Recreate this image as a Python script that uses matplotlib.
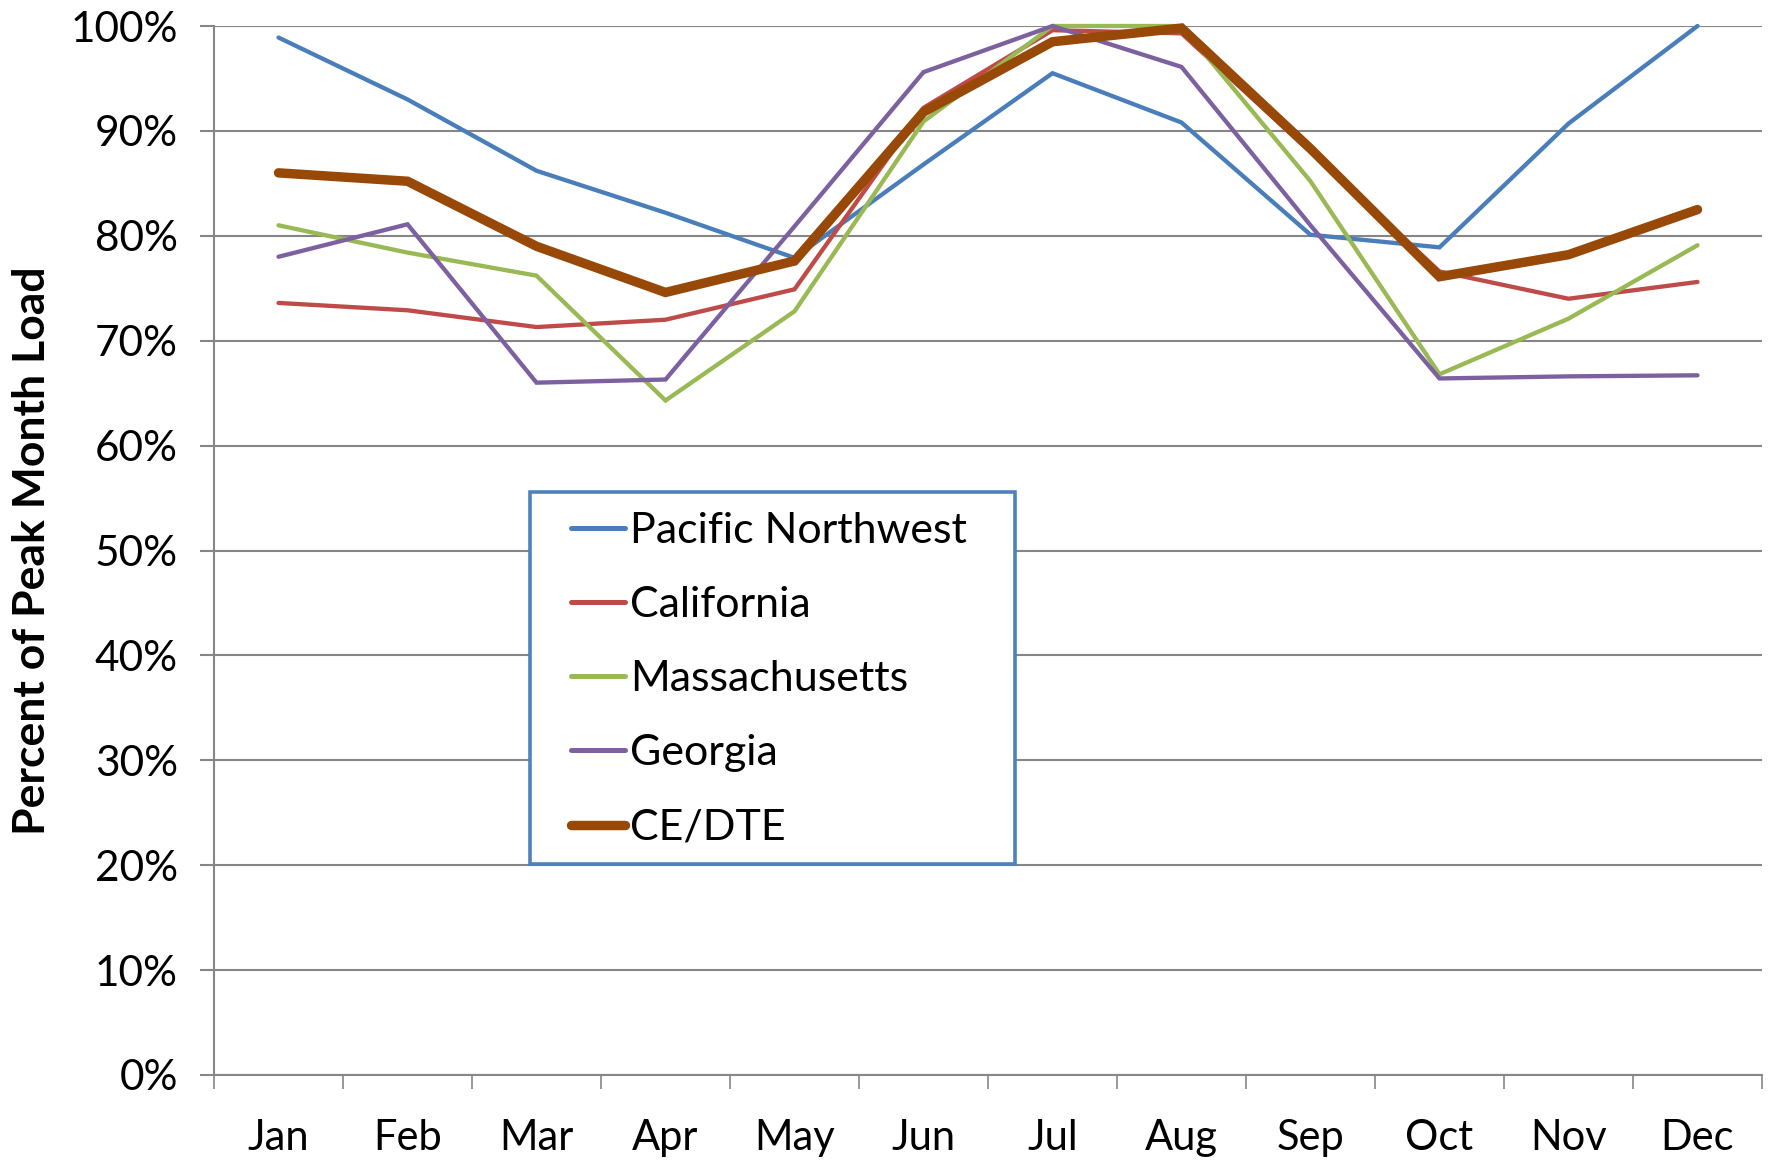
import matplotlib
matplotlib.use("Agg")
import matplotlib.pyplot as plt
from matplotlib.patches import Rectangle
from matplotlib.ticker import FixedLocator, FuncFormatter

months = ["Jan", "Feb", "Mar", "Apr", "May", "Jun", "Jul", "Aug", "Sep", "Oct", "Nov", "Dec"]
pacific_nw = [98.9, 93.0, 86.2, 82.2, 77.9, 86.8, 95.5, 90.8, 80.1, 78.9, 90.7, 100.0]
california = [73.6, 72.9, 71.3, 72.0, 74.9, 92.2, 99.6, 99.3, 88.0, 76.6, 74.0, 75.6]
massachusetts = [81.0, 78.4, 76.2, 64.3, 72.8, 90.9, 100.0, 100.0, 85.2, 66.8, 72.1, 79.1]
georgia = [78.0, 81.1, 66.0, 66.3, 80.9, 95.6, 100.0, 96.1, 81.0, 66.4, 66.6, 66.7]
ce_dte = [86.0, 85.2, 79.0, 74.6, 77.6, 91.8, 98.5, 99.8, 88.3, 76.1, 78.2, 82.5]

series = [
    ("Pacific Northwest", pacific_nw, "#4A7EBB", 3.1),
    ("California", california, "#BE4B48", 3.1),
    ("Massachusetts", massachusetts, "#98B954", 3.1),
    ("Georgia", georgia, "#7D60A0", 3.1),
    ("CE/DTE", ce_dte, "#984807", 6.8),
]

plt.rcParams['font.family'] = ['Lato', 'DejaVu Sans']

W, H = 1775, 1161
fig = plt.figure(figsize=(W / 100, H / 100), dpi=100)
left, right, top, bottom = 214, 1762, 26, 1075
ax = fig.add_axes([left / W, 1 - bottom / H, (right - left) / W, (bottom - top) / H])

x = list(range(len(months)))
for name, vals, color, lw in series:
    ax.plot(x, vals, color=color, lw=lw, label=name, solid_capstyle='round',
            solid_joinstyle='miter', clip_on=False)

ax.set_xlim(-0.5, 11.5)
ax.set_ylim(0, 100)

grid_c = "#868686"
ax.yaxis.set_major_locator(FixedLocator(range(0, 101, 10)))
ax.yaxis.set_major_formatter(FuncFormatter(lambda v, p: f"{int(v)}%"))
ax.yaxis.grid(True, color=grid_c, lw=1.5)
ax.set_axisbelow(True)

ax.xaxis.set_major_locator(FixedLocator(x))
ax.set_xticklabels(months)
ax.xaxis.set_minor_locator(FixedLocator([i - 0.5 for i in range(13)]))
ax.tick_params(axis='x', which='major', length=0, pad=32, labelsize=30)
ax.tick_params(axis='x', which='minor', length=10, width=1.2, color=grid_c)
ax.tick_params(axis='y', which='major', length=10, width=1.5, color=grid_c, pad=16, labelsize=30.5)

for s in ['top', 'right']:
    ax.spines[s].set_visible(False)
ax.spines['left'].set_color(grid_c)
ax.spines['left'].set_linewidth(1.5)
ax.spines['bottom'].set_color(grid_c)
ax.spines['bottom'].set_linewidth(1.5)

ax.set_ylabel("Percent of Peak Month Load", fontsize=32, fontweight='bold', labelpad=13)

# legend frame (drawn manually, in figure pixels)
fx0, fx1, fy0, fy1 = 530, 1015, 492, 864
frame = Rectangle((fx0 / W, 1 - fy1 / H), (fx1 - fx0) / W, (fy1 - fy0) / H,
                  transform=fig.transFigure, facecolor='white', edgecolor="#4F81BD",
                  lw=2.6, zorder=4)
ax.add_artist(frame)

hx, ty = 571, 512
leg = ax.legend(loc='upper left',
                bbox_to_anchor=(hx / W, 1 - ty / H), bbox_transform=fig.transFigure,
                fontsize=31, frameon=False, handlelength=1.25, handletextpad=0.12,
                borderpad=0, labelspacing=0.84, borderaxespad=0)
leg.set_zorder(5)
for ln in leg.get_lines():
    ln.set_solid_capstyle('round')
    if ln.get_linewidth() < 5:
        ln.set_linewidth(3.6)

fig.savefig("out.png", dpi=100)
